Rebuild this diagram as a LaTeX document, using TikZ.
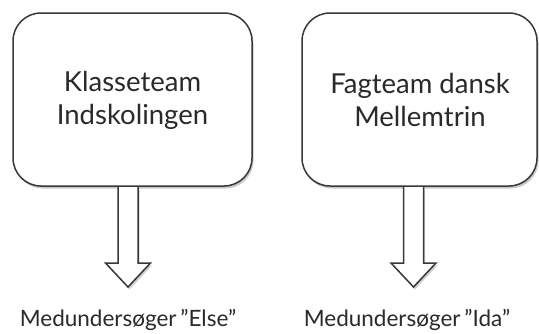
\documentclass[tikz,border=0pt]{standalone}
\usepackage{fontspec}
\setmainfont{Lato}
\usetikzlibrary{shadows}
\definecolor{linec}{HTML}{383838}
\definecolor{textc}{HTML}{2A2A2A}
\tikzset{
  teambox/.style={draw=linec, line width=1.5pt, fill=white, rounded corners=28pt,
    drop shadow={shadow xshift=1.5pt, shadow yshift=-2.5pt, opacity=0.35, fill=black!60}},
  boxtext/.style={text=textc, font=\fontsize{27.5}{33}\selectfont, align=center},
  labeltext/.style={text=textc, font=\fontsize{22.5}{26}\selectfont, anchor=center},
  blockarrow/.style={draw=linec, line width=1.5pt, fill=white, line join=miter,
    drop shadow={shadow xshift=1.5pt, shadow yshift=-2.5pt, opacity=0.3, fill=black!60}}
}
\begin{document}
\begin{tikzpicture}[x=1pt, y=-1pt]
  \path[use as bounding box, fill=white] (0,0) rectangle (539,333);
  % boxes
  \draw[teambox] (13,13) rectangle (252,186);
  \node[boxtext] (b1) at (132.5,100) {Klasseteam\\Indskolingen};
  \draw[teambox] (302,13) rectangle (537,186);
  \node[boxtext] (b2) at (420,100) {Fagteam dansk\\Mellemtrin};
  % labels
  \node[labeltext] (l1) at (128,320) {Medundersøger\,"Else"};
  \node[labeltext] (l2) at (407,320) {Medundersøger\,"Ida"};
  % arrows
  \coordinate (a1) at (128,187);
  \coordinate (a2) at (413.5,187);
  \draw[blockarrow] ([xshift=-10pt]a1) -- ++(0,76) -- ++(-12.5,0) -- ++(22.5,24) -- ++(22.5,-24) -- ++(-12.5,0) -- ++(0,-76);
  \draw[blockarrow] ([xshift=-10pt]a2) -- ++(0,76) -- ++(-12.5,0) -- ++(22.5,24) -- ++(22.5,-24) -- ++(-12.5,0) -- ++(0,-76);
\end{tikzpicture}
\end{document}
